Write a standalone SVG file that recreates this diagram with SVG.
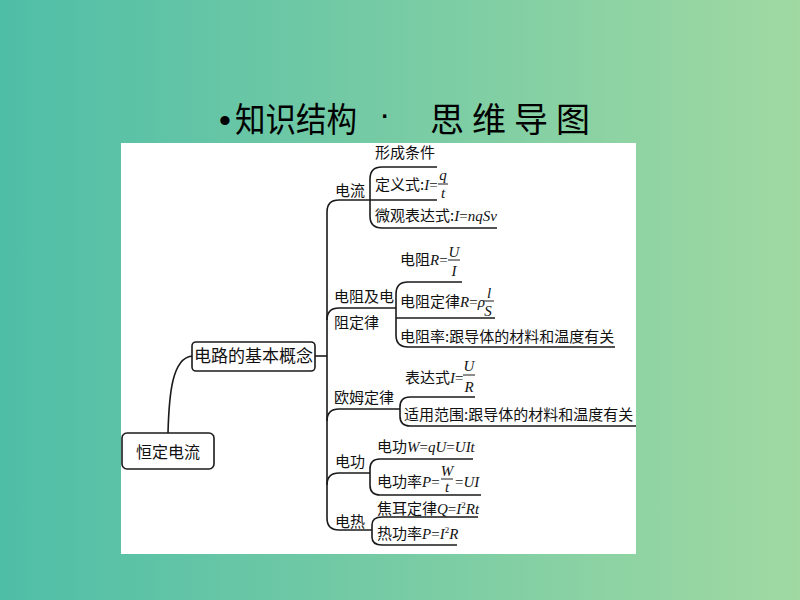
<svg xmlns="http://www.w3.org/2000/svg" width="800" height="600" viewBox="0 0 800 600">
<defs>
<linearGradient id="bg" x1="0" y1="0" x2="1" y2="0">
<stop offset="0" stop-color="#4fbea7"/>
<stop offset="1" stop-color="#a0d9a2"/>
</linearGradient>
<style>
.t{font-family:"Noto Sans CJK SC","Noto Sans CJK JP",sans-serif;font-size:15px;fill:#111}
.m{font-family:"Liberation Serif",serif;font-style:italic}
.n{font-family:"Liberation Serif",serif;font-style:normal}
.fr{font-family:"Liberation Serif",serif;font-style:italic;font-size:15px;fill:#111;text-anchor:middle}
.ln{fill:none;stroke:#1a1a1a;stroke-width:1.6}
.box{fill:#fff;stroke:#1a1a1a;stroke-width:1.6}
.title{font-family:"Noto Sans CJK SC",sans-serif;font-size:34px;fill:#000}
.sym{font-family:"Liberation Sans",sans-serif;font-size:34px;fill:#000}
</style>
</defs>
<rect width="800" height="600" fill="url(#bg)"/>
<g id="title">
<text class="sym" x="219" y="132">•</text>
<text class="title" x="235" y="132" textLength="122" lengthAdjust="spacingAndGlyphs">知识结构</text>
<text class="sym" x="379" y="125">·</text>
<text class="title" x="430" y="132" textLength="160">思维导图</text>
</g>
<rect x="121" y="143" width="515" height="411" fill="#fff"/>

<g id="connectors">
<path class="ln" d="M168,433 C169,395 172,358 192,356"/>
<path class="ln" d="M315,356 L327,356"/>
<path class="ln" d="M370,200 L339,200 Q327,200 327,212 L327,518 Q327,530 339,530 L372,530"/>
<path class="ln" d="M327,320 Q327,308 339,308 L396,308"/>
<path class="ln" d="M327,421 Q327,409 339,409 L400,409"/>
<path class="ln" d="M327,485 Q327,473 339,473 L370,473"/>
<path class="ln" d="M437,167 L382,167 Q370,167 370,179 L370,216 Q370,228 382,228 L497,228"/>
<path class="ln" d="M370,200 L437,200"/>
<path class="ln" d="M462,282 L408,282 Q396,282 396,294 L396,335 Q396,347 408,347 L615,347"/>
<path class="ln" d="M396,318 L495,318"/>
<path class="ln" d="M475,397 L410,397 Q400,397 400,407 L400,416 Q400,426 410,426 L636,426"/>
<path class="ln" d="M473,459 L380,459 Q370,459 370,469 L370,485 Q370,495 380,495 L481,495"/>
<path class="ln" d="M478,517 L382,517 Q372,517 372,525 L372,537 Q372,545 382,545 L457,545"/>
</g>

<g id="root">
<rect class="box" x="122" y="433" width="92" height="36" rx="5"/>
<text class="t" x="136" y="458" style="font-size:16px">恒定电流</text>
</g>
<g id="concept">
<rect class="box" x="192" y="342" width="123" height="29" rx="4"/>
<text class="t" x="253.5" y="362" text-anchor="middle" style="font-size:17px">电路的基本概念</text>
</g>

<g id="current">
<text class="t" x="335" y="196">电流</text>
<text class="t" x="375" y="158">形成条件</text>
<text class="t" x="375" y="190">定义式:<tspan class="m">I</tspan><tspan class="n">=</tspan></text>
<text class="fr" x="443" y="180">q</text>
<line class="ln" x1="438" y1="184" x2="448" y2="184" style="stroke-width:1"/>
<text class="fr" x="443" y="198">t</text>
<text class="t" x="375" y="221">微观表达式:<tspan class="m">I</tspan><tspan class="n">=</tspan><tspan class="m">nqSv</tspan></text>
</g>

<g id="resistance">
<text class="t" x="334" y="302">电阻及电</text>
<text class="t" x="334" y="328">阻定律</text>
<text class="t" x="400" y="265">电阻<tspan class="m">R</tspan><tspan class="n">=</tspan></text>
<text class="fr" x="454" y="257">U</text>
<line class="ln" x1="448" y1="260" x2="460" y2="260" style="stroke-width:1"/>
<text class="fr" x="454" y="276">I</text>
<text class="t" x="400" y="307">电阻定律<tspan class="m">R</tspan><tspan class="n">=</tspan><tspan class="m">ρ</tspan></text>
<text class="fr" x="489" y="298">l</text>
<line class="ln" x1="483" y1="301" x2="494" y2="301" style="stroke-width:1"/>
<text class="fr" x="488" y="316">S</text>
<text class="t" x="400" y="342">电阻率:跟导体的材料和温度有关</text>
</g>

<g id="ohm">
<text class="t" x="334" y="403">欧姆定律</text>
<text class="t" x="405" y="383">表达式<tspan class="m">I</tspan><tspan class="n">=</tspan></text>
<text class="fr" x="469" y="371">U</text>
<line class="ln" x1="463" y1="375" x2="475" y2="375" style="stroke-width:1"/>
<text class="fr" x="469" y="392">R</text>
<text class="t" x="404" y="420">适用范围:跟导体的材料和温度有关</text>
</g>

<g id="work">
<text class="t" x="335" y="467">电功</text>
<text class="t" x="377" y="452">电功<tspan class="m">W</tspan><tspan class="n">=</tspan><tspan class="m">qU</tspan><tspan class="n">=</tspan><tspan class="m">UIt</tspan></text>
<text class="t" x="377" y="487">电功率<tspan class="m">P</tspan><tspan class="n">=</tspan></text>
<text class="fr" x="447" y="476">W</text>
<line class="ln" x1="441" y1="479" x2="453" y2="479" style="stroke-width:1"/>
<text class="fr" x="447" y="492">t</text>
<text class="t" x="455" y="487"><tspan class="n">=</tspan><tspan class="m">UI</tspan></text>
</g>

<g id="heat">
<text class="t" x="335" y="527">电热</text>
<text class="t" x="377" y="514">焦耳定律<tspan class="m">Q</tspan><tspan class="n">=</tspan><tspan class="m">I</tspan><tspan class="n" style="font-size:9px" dy="-6">2</tspan><tspan class="m" dy="6">Rt</tspan></text>
<text class="t" x="377" y="539">热功率<tspan class="m">P</tspan><tspan class="n">=</tspan><tspan class="m">I</tspan><tspan class="n" style="font-size:9px" dy="-6">2</tspan><tspan class="m" dy="6">R</tspan></text>
</g>
</svg>
